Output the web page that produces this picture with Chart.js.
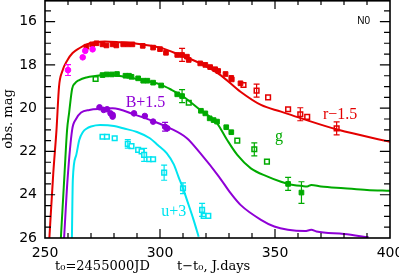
<!DOCTYPE html>
<html lang="en">
<head>
    <meta charset="UTF-8">
    <title>Light curve N0</title>
    <style>
        html, body { margin: 0; padding: 0; background: #fff; }
        #wrap { width: 399px; height: 275px; }
    </style>
</head>
<body>
    <div id="wrap"><canvas id="lc"></canvas></div>

    <script src="https://cdn.jsdelivr.net/npm/chart.js"></script>
    <script>
        // axis ticks
        const xTicks = [250, 300, 350, 400];
        const yTicks = [16, 18, 20, 22, 24, 26];

        // model curves (day, mag)
        const rLineT = [251.9, 253.6, 255, 256.1, 257.5, 259.8, 262, 264.9, 268, 272, 276, 282, 290, 300, 308.8, 317.5, 326.3, 335, 343.9, 352.6, 361.4, 377.5, 400];
        const rLineM = [26, 23.0, 21.0, 19.0, 18.3, 17.77, 17.45, 17.23, 17.05, 16.95, 16.92, 16.95, 17.02, 17.2, 17.55, 17.93, 18.47, 19.24, 19.85, 20.16, 20.47, 21.0, 21.55];

        const gLineT = [256.9, 258.5, 259.6, 260.5, 261.8, 263, 264.9, 268, 271, 276.8, 285, 292, 300, 305, 310.2, 317.5, 324.8, 329.2, 333.6, 339.5, 346.8, 352.6, 355.7, 362, 364, 365.8, 370, 380, 390, 400];
        const gLineM = [26, 23.0, 21.0, 20.2, 19.1, 18.85, 18.7, 18.58, 18.52, 18.47, 18.55, 18.7, 18.9, 19.15, 19.47, 20.08, 20.7, 21.47, 22.16, 22.78, 23.16, 23.4, 23.5, 23.6, 23.62, 23.55, 23.62, 23.7, 23.78, 23.82];

        const bLineT = [258.3, 259.8, 261.8, 263.5, 265.7, 269.3, 275, 279.4, 289, 297, 304.4, 311.7, 317.5, 325.6, 330.7, 335, 343.9, 349.7, 355.6, 363, 365.8, 368, 380, 390.7];
        const bLineM = [26, 23.3, 21.0, 20.5, 20.2, 20.08, 20.03, 20.0, 20.3, 20.6, 20.93, 21.39, 22.08, 23.16, 23.93, 24.47, 25.16, 25.47, 25.62, 25.68, 25.62, 25.7, 25.82, 25.97];

        const uLineT = [261.7, 262.1, 263.5, 264.9, 266.5, 268, 270, 274, 280, 284, 290, 295.6, 299, 302.9, 306, 308, 310, 311.7, 314.6, 316.8];
        const uLineM = [26, 23.3, 22.2, 21.47, 21.1, 20.95, 20.85, 20.78, 20.82, 20.93, 21.1, 21.39, 21.7, 22.08, 22.6, 23.16, 23.7, 24.24, 25.16, 25.94];

        // observed points (day, mag, error; 0 = no bar)
        const mT = [260, 266.4, 267.5, 270.7];
        const mM = [18.24, 17.65, 17.35, 17.28];
        const mE = [0.25, 0, 0, 0];

        const rFillT = [268, 270.5, 272.4, 275, 276.7, 279.4, 281, 284, 286, 288, 292.5, 297, 300, 302.6, 307.5, 309.6, 311.7, 312.5, 317.5, 319.7, 321.8, 324, 325.3, 328.5, 331, 331.2, 335];
        const rFillM = [17.16, 17.05, 17.0, 17.05, 17.1, 17.05, 17.1, 17.05, 17.05, 17.05, 17.12, 17.2, 17.27, 17.44, 17.54, 17.54, 17.62, 17.77, 17.93, 18.0, 18.1, 18.2, 18.28, 18.42, 18.6, 18.67, 18.85];
        const rFillE = [0, 0, 0, 0, 0, 0, 0, 0, 0, 0, 0, 0, 0, 0, 0, 0.3, 0, 0, 0, 0, 0, 0, 0, 0, 0, 0, 0];
        const rOpenT = [336.3, 342, 347, 355.7, 361, 364, 376.8];
        const rOpenM = [18.93, 19.19, 19.5, 20.05, 20.28, 20.4, 20.93];
        const rOpenE = [0, 0.3, 0, 0, 0.3, 0, 0.3];

        const gFillT = [275, 276.8, 279, 281.3, 285, 286.5, 287.6, 290.5, 292.7, 294.5, 297, 300.5, 307.5, 309.6, 317.8, 319.7, 321.6, 323.3, 324.8, 328.8, 331, 355.7, 361.5];
        const gFillM = [18.47, 18.44, 18.44, 18.42, 18.5, 18.5, 18.55, 18.62, 18.73, 18.73, 18.82, 18.95, 19.36, 19.44, 20.12, 20.24, 20.47, 20.55, 20.62, 20.88, 21.11, 23.5, 23.9];
        const gFillE = [0, 0, 0, 0, 0, 0, 0, 0, 0, 0, 0, 0, 0, 0.3, 0, 0, 0, 0, 0, 0, 0, 0.3, 0.5];
        const gOpenT = [272, 312.5, 333.6, 341, 346.5];
        const gOpenM = [18.65, 19.75, 21.5, 21.9, 22.47];
        const gOpenE = [0, 0, 0, 0.3, 0];

        const bT = [273.7, 275.5, 277, 278.5, 279.4, 279.4, 288.7, 293.4, 297, 302.2, 303.2];
        const bM = [19.96, 20.08, 20.05, 20.24, 20.31, 20.39, 20.24, 20.36, 20.62, 20.86, 20.93];
        const bE = [0, 0, 0, 0, 0, 0, 0, 0, 0, 0.2, 0];

        const uT = [275, 276.9, 280.3, 286, 287.6, 290.5, 292, 293.1, 295.3, 297, 301.8, 310, 318.3, 319, 321];
        const uM = [21.32, 21.32, 21.39, 21.65, 21.75, 21.93, 22.0, 22.16, 22.36, 22.36, 22.98, 23.7, 24.7, 24.98, 24.98];
        const uE = [0, 0, 0, 0.2, 0, 0, 0, 0.3, 0, 0, 0.35, 0.25, 0.3, 0, 0];

        const RED = '#e40000', GREEN = '#00aa00', PURPLE = '#8f00d6', CYAN = '#00e4f0', MAGENTA = '#ff00ff';

        function pts(t, m) {
            return t.map((v, i) => ({ x: v, y: m[i] }));
        }

        function model(t, m, color) {
            return {
                data: pts(t, m), borderColor: color, borderWidth: 2,
                pointRadius: 0, showLine: true, cubicInterpolationMode: 'monotone'
            };
        }

        function obs(t, m, e, color, style, open) {
            return {
                data: pts(t, m), errs: e, showLine: false,
                pointStyle: style, pointRadius: style === 'rect' ? 3.3 : 2.8,
                backgroundColor: open ? '#ffffff' : color,
                borderColor: color, borderWidth: open ? 1.5 : 1
            };
        }

        // inward tick marks on all four sides, as short line segments
        // (null breaks the line between segments)
        function tickMarks() {
            const seg = [];
            for (let d = 260; d < 400; d += 10) {
                const len = d % 50 === 0 ? 0.42 : 0.23;
                seg.push({ x: d, y: 26 }, { x: d, y: 26 - len }, { x: d, y: null });
                seg.push({ x: d, y: 15 }, { x: d, y: 15 + len }, { x: d, y: null });
            }
            for (let k = 1; k < 22; k++) {
                const v = 15 + k * 0.5;
                const len = k % 4 === 2 ? 4.4 : 2.6;
                seg.push({ x: 250, y: v }, { x: 250 + len, y: v }, { x: 250 + len, y: null });
                seg.push({ x: 400, y: v }, { x: 400 - len, y: v }, { x: 400 - len, y: null });
            }
            return {
                data: seg, showLine: true, spanGaps: false, tension: 0,
                borderColor: '#000', borderWidth: 1.2, pointRadius: 0
            };
        }

        // error bars and curve labels
        const decor = {
            id: 'decor',
            afterDatasetsDraw(chart) {
                const ctx = chart.ctx;
                const xs = chart.scales.x, ys = chart.scales.y;

                chart.data.datasets.forEach(ds => {
                    if (!ds.errs) return;
                    ctx.save();
                    ctx.strokeStyle = ds.borderColor;
                    ctx.lineWidth = 1.2;
                    ds.data.forEach((p, j) => {
                        const e = ds.errs[j];
                        if (!e) return;
                        const x = xs.getPixelForValue(p.x);
                        const y1 = ys.getPixelForValue(p.y - e);
                        const y2 = ys.getPixelForValue(p.y + e);
                        ctx.beginPath();
                        ctx.moveTo(x, y1); ctx.lineTo(x, y2);
                        ctx.moveTo(x - 3, y1); ctx.lineTo(x + 3, y1);
                        ctx.moveTo(x - 3, y2); ctx.lineTo(x + 3, y2);
                        ctx.stroke();
                    });
                    ctx.restore();
                });

                ctx.save();
                ctx.font = '16px "Liberation Serif"';
                ctx.textAlign = 'center';
                ctx.textBaseline = 'middle';
                const lab = (txt, d, m, c) => {
                    ctx.fillStyle = c;
                    ctx.fillText(txt, xs.getPixelForValue(d), ys.getPixelForValue(m));
                };
                lab('r\u22121.5', 378.3, 20.31, RED);
                lab('g', 351.7, 21.3, GREEN);
                lab('B+1.5', 293.7, 19.76, PURPLE);
                lab('u+3', 306, 24.8, CYAN);
                ctx.restore();
            }
        };

        // box and titles
        const frame = {
            id: 'frame',
            afterDraw(chart) {
                const ctx = chart.ctx, a = chart.chartArea;
                const xs = chart.scales.x, ys = chart.scales.y;

                ctx.save();
                ctx.strokeStyle = '#000';
                ctx.lineWidth = 1.6;
                const top = Math.max(a.top, 0.8);
                ctx.strokeRect(a.left, top, a.right - a.left, a.bottom - top);

                ctx.fillStyle = '#000';
                ctx.font = '10px "Liberation Sans"';
                ctx.textAlign = 'center';
                ctx.textBaseline = 'middle';
                ctx.fillText('N0', xs.getPixelForValue(388.5), ys.getPixelForValue(15.97));

                ctx.font = '13px "DejaVu Serif"';
                ctx.textAlign = 'left';
                ctx.textBaseline = 'alphabetic';
                ctx.fillText('t\u2080=2455000JD', a.left + 10, 270);
                ctx.fillText('t\u2212t\u2080, J.days', a.left + 132, 270);

                ctx.translate(12, (a.top + a.bottom) / 2);
                ctx.rotate(-Math.PI / 2);
                ctx.textAlign = 'center';
                ctx.fillText('obs. mag', 0, 0);
                ctx.restore();
            }
        };

        new Chart(document.getElementById('lc'), {
            type: 'scatter',
            data: {
                datasets: [
                    tickMarks(),
                    model(rLineT, rLineM, RED),
                    model(gLineT, gLineM, GREEN),
                    model(bLineT, bLineM, PURPLE),
                    model(uLineT, uLineM, CYAN),
                    obs(mT, mM, mE, MAGENTA, 'circle', false),
                    obs(rFillT, rFillM, rFillE, RED, 'rect', false),
                    obs(rOpenT, rOpenM, rOpenE, RED, 'rect', true),
                    obs(gFillT, gFillM, gFillE, GREEN, 'rect', false),
                    obs(gOpenT, gOpenM, gOpenE, GREEN, 'rect', true),
                    obs(bT, bM, bE, PURPLE, 'circle', false),
                    obs(uT, uM, uE, CYAN, 'rect', true)
                ]
            },
            options: {
                responsive: true,
                maintainAspectRatio: false,
                animation: false,
                layout: { autoPadding: false, padding: { top: 0, right: 9, left: 0, bottom: 0 } },
                plugins: { legend: { display: false }, tooltip: { enabled: false } },
                scales: {
                    x: {
                        type: 'linear', min: 250, max: 400,
                        grid: { display: false, drawTicks: false },
                        border: { display: false },
                        afterBuildTicks: s => { s.ticks = xTicks.map(v => ({ value: v })); },
                        afterFit: s => { s.height = 37; s.paddingLeft = 0; s.paddingRight = 0; },
                        ticks: { color: '#000', padding: 7, maxRotation: 0, font: { family: 'DejaVu Sans', size: 14 } }
                    },
                    y: {
                        type: 'linear', reverse: true, min: 15, max: 26,
                        grid: { display: false, drawTicks: false },
                        border: { display: false },
                        afterBuildTicks: s => { s.ticks = yTicks.map(v => ({ value: v })); },
                        afterFit: s => { s.width = 45; s.paddingTop = 0; s.paddingBottom = 0; },
                        ticks: { color: '#000', padding: 8, font: { family: 'DejaVu Sans', size: 14 } }
                    }
                }
            },
            plugins: [decor, frame]
        });
    </script>
</body>
</html>
